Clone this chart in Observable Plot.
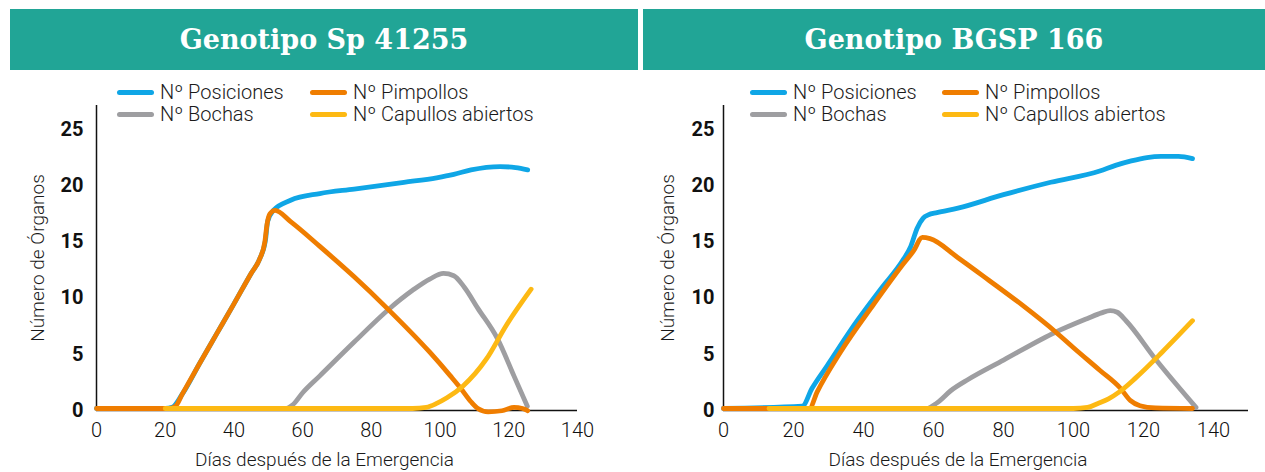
<!DOCTYPE html>
<html>
<head>
<meta charset="utf-8">
<script src="https://cdn.jsdelivr.net/npm/d3@7"></script>
<script src="https://cdn.jsdelivr.net/npm/@observablehq/plot@0.6"></script>
<style>
  html, body { margin: 0; padding: 0; background: #fff; }
  #wrap { position: relative; width: 1265px; height: 472px; overflow: hidden; font-family: Roboto, "Noto Sans", sans-serif; }
  .band { position: absolute; top: 9px; height: 61px; background: #21a596; color: #fff;
          font-family: "DejaVu Serif", serif; font-weight: bold; font-size: 27px;
          display: flex; align-items: center; justify-content: center; }
  .plot-holder { position: absolute; top: 0; }
  .leg { position: absolute; height: 24px; display: flex; align-items: center; white-space: nowrap;
         font-family: Roboto, sans-serif; font-weight: 300; font-size: 20px; color: #1a1a1a; }
  .sw { display: inline-block; width: 37px; height: 5px; border-radius: 3px; margin-right: 6px; }
</style>
</head>
<body>
<div id="wrap"></div>
<script>
// ---------- categories / labels ----------
const titles = ["Genotipo Sp 41255", "Genotipo BGSP 166"];
const series = ["Nº Posiciones", "Nº Pimpollos", "Nº Bochas", "Nº Capullos abiertos"];
const colors = ["#0fa6e6", "#ef7d00", "#9e9ea1", "#fdb913"];
const xTicks = [0, 20, 40, 60, 80, 100, 120, 140];
const yTicks = [0, 5, 10, 15, 20, 25];
const xLabel = "Días después de la Emergencia";
const yLabel = "Número de Órganos";

// ---------- Genotipo Sp 41255 ----------
const spPosDias = [0, 20, 22, 25, 30, 35, 40, 45, 47.5, 49.2, 49.8, 51.5, 56.5, 65, 75, 89.5, 99, 104, 109, 117.5, 122, 125.5];
const spPos     = [0, 0, 0.1, 1.3, 4.0, 6.65, 9.3, 12.0, 13.3, 15, 16.6, 17.6, 18.5, 19.1, 19.5, 20.1, 20.5, 20.8, 21.2, 21.5, 21.4, 21.2];
const spPimDias = [0, 21, 23, 25, 30, 35, 40, 45, 47.5, 49, 49.6, 50.5, 52, 56.5, 65, 75, 84.6, 97, 103, 106, 109, 111, 114, 118, 121.5, 124, 125.5];
const spPim     = [0, 0, 0.2, 1.3, 4.0, 6.65, 9.3, 12.0, 13.3, 14.8, 16.3, 17.3, 17.6, 16.6, 14.4, 11.7, 8.9, 5.0, 2.9, 1.8, 0.6, 0, -0.3, -0.2, 0.1, 0, -0.2];
const spBocDias = [20, 55, 57, 60, 65, 75, 85, 92, 97, 101, 104, 107, 111, 116.7, 121.5, 125.4];
const spBoc     = [0, 0, 0.3, 1.4, 2.9, 5.9, 8.8, 10.5, 11.5, 12.0, 11.8, 10.8, 8.9, 6.2, 2.9, 0.2];
const spCapDias = [20, 92, 96, 99, 102, 106.7, 113.5, 119.3, 126.5];
const spCap     = [0, 0, 0.1, 0.45, 0.95, 2.0, 4.4, 7.4, 10.6];

// ---------- Genotipo BGSP 166 ----------
const bgPosDias = [0, 22.5, 25.3, 29.6, 38.2, 44.9, 51.5, 53.5, 55.3, 57, 58.5, 61, 67, 80, 93.5, 107.5, 112, 116.5, 121, 125, 130, 134];
const bgPos     = [0, 0.2, 1.8, 3.8, 7.8, 10.6, 13.3, 14.4, 16.0, 16.9, 17.2, 17.4, 17.8, 19.0, 20.1, 21.1, 21.6, 22.0, 22.3, 22.4, 22.4, 22.2];
const bgPimDias = [0, 24.5, 26.8, 33.4, 43, 51.5, 54.3, 56.8, 59, 67, 75.8, 85.3, 94.9, 100, 107.5, 113.4, 116.3, 119, 123.4, 134];
const bgPim     = [0, 0, 1.5, 5.0, 9.3, 12.9, 14.0, 15.2, 15.1, 13.4, 11.4, 9.2, 6.8, 5.4, 3.4, 1.8, 0.7, 0.25, 0.05, 0];
const bgBocDias = [0, 58, 61, 65, 70, 80, 95, 104, 108, 110.5, 112.5, 115, 123.4, 135];
const bgBoc     = [0, 0, 0.5, 1.6, 2.6, 4.3, 6.8, 8.0, 8.5, 8.7, 8.55, 7.8, 4.4, 0.1];
const bgCapDias = [13, 100, 104, 107, 110, 113, 117.7, 125.3, 134];
const bgCap     = [0, 0, 0.1, 0.45, 0.85, 1.45, 2.7, 5.0, 7.8];

function rows(dias, vals) { return dias.map((d, i) => ({dia: d, n: vals[i]})); }

const panels = [
  {title: titles[0], xMax: 140, left: 0, width: 632, mL: 96, mR: 55, tickPad: 13, xdx: -12.5, ydx: -53,
   bandLeft: 10, bandWidth: 628, legX: [117, 310],
   data: [rows(spPosDias, spPos), rows(spPimDias, spPim), rows(spBocDias, spBoc), rows(spCapDias, spCap)]},
  {title: titles[1], xMax: 150, left: 633, width: 632, mL: 90, mR: 17, tickPad: 9, xdx: -28, ydx: -50,
   bandLeft: 643, bandWidth: 622, legX: [750, 942],
   data: [rows(bgPosDias, bgPos), rows(bgPimDias, bgPim), rows(bgBocDias, bgBoc), rows(bgCapDias, bgCap)]}
];

const wrap = document.getElementById("wrap");
const drawOrder = [0, 2, 1, 3]; // posiciones, bochas, pimpollos, capullos

for (const p of panels) {
  const lineMarks = drawOrder.map(k => Plot.line(p.data[k], {
    x: "dia", y: "n", stroke: colors[k], strokeWidth: 4.8, curve: "monotone-x", dy: -2, strokeLinejoin: "round"
  }));
  const chart = Plot.plot({
    width: p.width, height: 472,
    marginLeft: p.mL, marginRight: p.mR, marginTop: 105, marginBottom: 62,
    x: {domain: [0, p.xMax]},
    y: {domain: [0, 27.1]},
    style: {background: "transparent", fontFamily: "Roboto, sans-serif", color: "#111", overflow: "visible"},
    marks: [
      Plot.axisY({ticks: yTicks, tickSize: 0, tickPadding: p.tickPad, fontSize: 20, fontWeight: 700, label: null}),
      Plot.axisX({ticks: xTicks, tickSize: 0, tickPadding: 12, fontSize: 20, fontWeight: 300, label: null}),
      Plot.ruleX([0], {stroke: "#111", strokeWidth: 1.5}),
      Plot.ruleY([0], {stroke: "#111", strokeWidth: 1.5}),
      ...lineMarks,
      Plot.text([xLabel], {text: d => d, frameAnchor: "bottom", textAnchor: "middle", dx: p.xdx, dy: 55, lineAnchor: "bottom",
                           fontSize: 19, fontWeight: 300, fill: "#1a1a1a"}),
      Plot.text([yLabel], {text: d => d, frameAnchor: "left", textAnchor: "middle", rotate: -90, dx: p.ydx, lineAnchor: "bottom",
                           fontSize: 19, fontWeight: 300, fill: "#1a1a1a"})
    ]
  });
  const holder = document.createElement("div");
  holder.className = "plot-holder";
  holder.style.left = p.left + "px";
  holder.appendChild(chart);
  wrap.appendChild(holder);

  const band = document.createElement("div");
  band.className = "band";
  band.style.left = p.bandLeft + "px";
  band.style.width = p.bandWidth + "px";
  band.textContent = p.title;
  wrap.appendChild(band);

  // legend: 2 columns x 2 rows
  const legendLayout = [[0, 0, 0], [1, 1, 0], [2, 0, 1], [3, 1, 1]]; // [series, col, row]
  const rowY = [92, 114];
  for (const [k, col, row] of legendLayout) {
    const it = document.createElement("div");
    it.className = "leg";
    it.style.left = p.legX[col] + "px";
    it.style.top = (rowY[row] - 12) + "px";
    const sw = document.createElement("span");
    sw.className = "sw";
    sw.style.background = colors[k];
    it.appendChild(sw);
    it.appendChild(document.createTextNode(series[k]));
    wrap.appendChild(it);
  }
}
</script>
</body>
</html>
